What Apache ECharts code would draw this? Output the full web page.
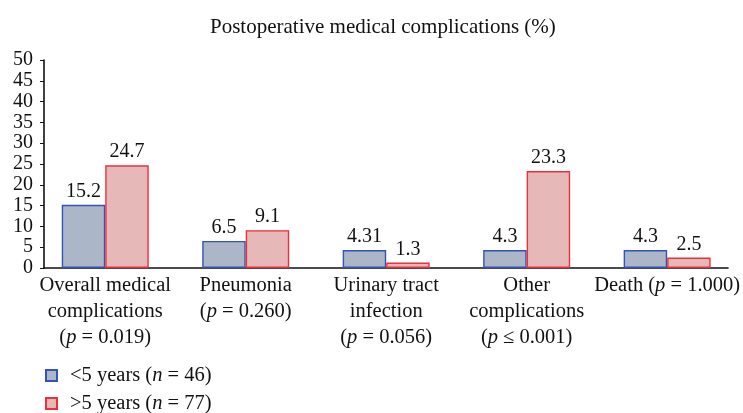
<!DOCTYPE html>
<html><head><meta charset="utf-8">
<script src="https://cdn.jsdelivr.net/npm/echarts@6/dist/echarts.min.js"></script>
<style>html,body{margin:0;padding:0;background:#fff}#c{width:743px;height:413px}</style>
</head><body><div id="c"></div>
<script>
const categories = [
  'Overall medical\ncomplications\n({i|p} = 0.019)',
  'Pneumonia\n({i|p} = 0.260)',
  'Urinary tract\ninfection\n({i|p} = 0.056)',
  'Other\ncomplications\n({i|p} ≤ 0.001)',
  'Death ({i|p} = 1.000)'
];
const seriesNames = ['<5 years ({i|n} = 46)', '>5 years ({i|n} = 77)'];
const under5 = [15.2, 6.5, 4.31, 4.3, 4.3];
const over5 = [24.7, 9.1, 1.3, 23.3, 2.5];
const yTicks = [0, 50, 5];

const FONT = '"Liberation Serif", "DejaVu Serif", serif';
const chart = echarts.init(document.getElementById('c'));
const gTop = 60, gBottom = 145;
const CAT = 20.5;
chart.setOption({
  animation: false,
  textStyle: {fontFamily: FONT, color: '#111'},
  title: {text: 'Postoperative medical complications (%)', left: 205, top: 12,
    textStyle: {fontFamily: FONT, fontSize: 21, fontWeight: 'normal', color: '#111'}},
  grid: [
    {left: 44, right: 15, top: gTop, bottom: gBottom},
    {left: 35, width: 703.5, top: gTop, bottom: gBottom}
  ],
  xAxis: [
    {gridIndex: 0, type: 'category', data: [''], axisLine: {lineStyle: {color: '#111', width: 1.6}},
      axisTick: {show: false}, axisLabel: {show: false}},
    {gridIndex: 1, type: 'category', data: categories, axisLine: {show: false}, axisTick: {show: false},
      axisLabel: {interval: 0, margin: 5, fontFamily: FONT, fontSize: CAT, color: '#111', lineHeight: 26,
        formatter: v => v,
        rich: {i: {fontStyle: 'italic', fontFamily: FONT, fontSize: CAT, color: '#111', lineHeight: 26}}}}
  ],
  yAxis: [
    {gridIndex: 0, type: 'value', min: yTicks[0], max: yTicks[1], interval: yTicks[2],
      axisLine: {show: true, lineStyle: {color: '#111', width: 1.6}},
      axisTick: {show: true, length: 4, lineStyle: {color: '#111'}},
      splitLine: {show: false},
      axisLabel: {fontFamily: FONT, fontSize: 20, color: '#111', margin: 11}},
    {gridIndex: 1, type: 'value', min: yTicks[0], max: yTicks[1], interval: yTicks[2], show: false, splitLine: {show: false}}
  ],
  legend: {orient: 'vertical', left: 45, top: 365, height: 60, padding: 0, itemWidth: 11, itemHeight: 11, itemGap: 7,
    icon: 'rect',
    textStyle: {fontFamily: FONT, fontSize: CAT, color: '#111', padding: [0, 0, 0, 8],
      rich: {i: {fontStyle: 'italic', fontFamily: FONT, fontSize: CAT, color: '#111'}}},
    formatter: n => n},
  series: [
    {name: seriesNames[0], type: 'bar', xAxisIndex: 1, yAxisIndex: 1, data: under5, barWidth: 43.5, barGap: '0%',
      itemStyle: {color: '#abb6c9', borderColor: '#3553b5', borderWidth: 1.4},
      label: {show: true, position: 'top', distance: 3, fontFamily: FONT, fontSize: 20, color: '#111'}},
    {name: seriesNames[1], type: 'bar', xAxisIndex: 1, yAxisIndex: 1, data: over5, barWidth: 43.5, barGap: '0%',
      itemStyle: {color: '#e6b9b8', borderColor: '#ec2f3b', borderWidth: 1.4},
      label: {show: true, position: 'top', distance: 3, fontFamily: FONT, fontSize: 20, color: '#111'}}
  ]
});
</script></body></html>
